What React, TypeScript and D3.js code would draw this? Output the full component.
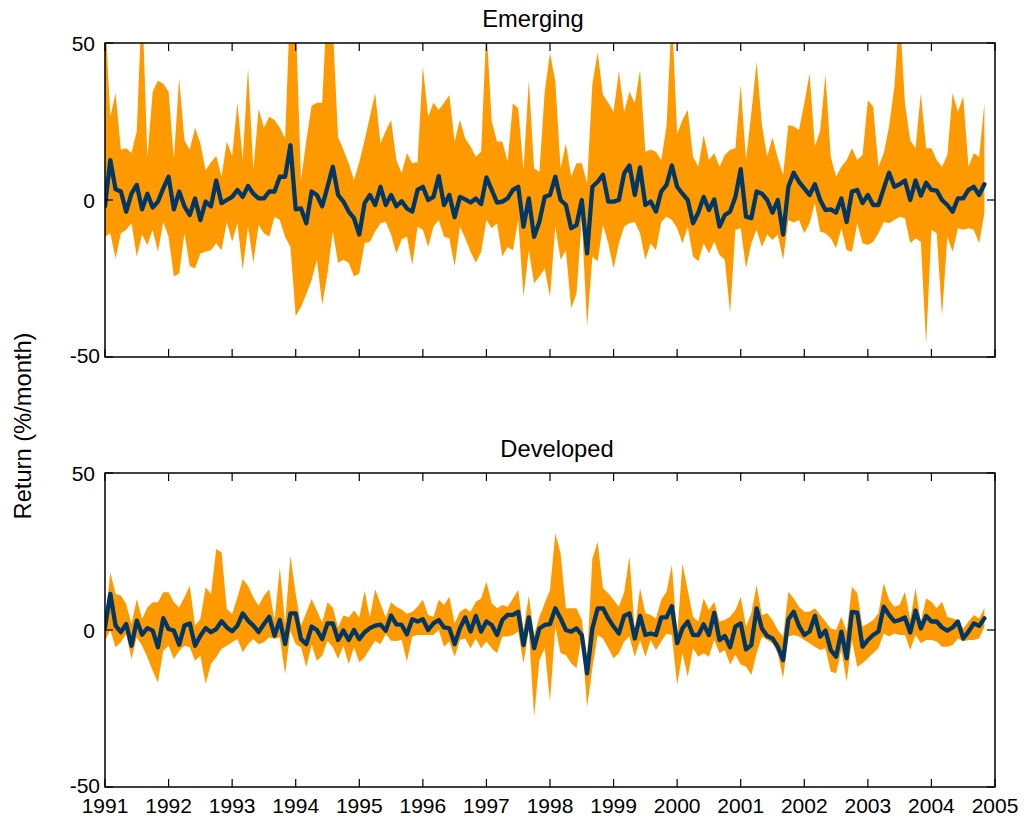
import React from "react";
import * as d3 from "d3";

// monthly returns (%/month), Jan 1991 .. Nov 2004
const emergingHigh = [
  60, 26.5, 34, 16, 16.5, 15, 22, 65, 13.4, 34.5, 38, 37,
  34.5, 13, 38.7, 19, 16, 23, 18, 9.5, 12, 14, 7.4, 18.6,
  14, 31, 12.7, 42, 9.5, 29, 23, 26.5, 25.5, 23, 19.6, 65,
  58, 6.4, 19, 30, 31, 31, 65, 55, 20, 16, 11.7, 6.4,
  12, 19, 26.5, 34, 18, 22, 25.5, 12.7, 8.5, 15, 11.7, 12,
  42.5, 26.5, 31, 28.7, 31, 33.4, 18.6, 25.5, 19.6, 17, 13.8, 15.4,
  55, 25, 18.6, 18.6, 12.2, 30.8, 29.2, 9.5, 38.2, 10, 9, 34.5,
  46.7, 37.7, 10, 18, 7.4, 11.7, 11.7, 5.3, 37, 47, 33.4, 31,
  28, 41, 28, 34.5, 30.8, 41.4, 15.4, 16, 15.4, 12.7, 23.4, 60,
  21, 25.5, 28.7, 13.8, 10.6, 20.7, 12.7, 14.9, 10.6, 14.3, 16, 16.5,
  36.6, 12.7, 27.6, 44, 23.9, 13.8, 20, 13.3, 8, 23.9, 23.4, 22.3,
  30.8, 40.3, 17, 22, 40, 13.8, 7.4, 10.6, 12.7, 16.5, 12.7, 14.3,
  31.8, 29.7, 10.6, 14.9, 23.4, 36, 60, 30.8, 19, 16.5, 34, 16.5,
  16.5, 12.7, 10.6, 14.3, 34, 28, 33, 10.6, 14.9, 13.8, 30.8,
];
const emergingMean = [
  -2, 12.7, 3.4, 2.7, -3.7, 2, 4.8, -3, 2, -2.4, -0.5, 3.7,
  7.4, -3, 2.7, -2, -4.8, 0.5, -6.4, -0.5, -2, 6.2, -1, 0,
  1, 3.2, 1, 4.5, 2, 0.5, 0.5, 2.7, 2.7, 7.4, 7.4, 17.5,
  -3, -2.7, -7.4, 2.7, 1.6, -2, 4.2, 10.6, 1.6, -0.5, -3.7, -5.8,
  -11, -1, 1.6, -1.6, 4.2, -1.6, 1.6, -2, -0.4, -2.7, -3.7, 3.2,
  4.2, 0, 1, 7.6, -1.6, 1.6, -5.5, 1, 0.2, -0.8, 0.5, -1.3,
  7.2, 3.2, -0.8, -0.5, 0.5, 3.2, 4.2, -8.5, 0.5, -11.7, -6.9, 1,
  1.6, 7.4, 0, -1.6, -9, -8, 0, -17, 4.2, 5.8, 8, -0.5,
  -0.5, 0, 8.5, 11, 1.6, 10.4, -1.6, -0.5, -3.7, 2.7, 4.8, 11,
  4.2, 2, 0, -7.4, -4, 1, -3.2, 0.2, -8.5, -4.8, -3.7, 1,
  9.8, -5.3, -5.8, 2.7, 2, 0, -4, 0, -11, 4.2, 8.7, 5.8,
  3.7, 1.6, 5, 0, -3.2, -3, -4, 0.5, -7, 2.7, 3.2, -1,
  1.6, -1.6, -1.6, 3.7, 8.7, 4.2, 5, 6.2, 0, 6.2, 1.4, 5.5,
  3.2, 3, 0, -1.6, -3.7, 0.5, 0.5, 3.2, 4.2, 1.6, 5,
];
const emergingLow = [
  -11.7, -10.6, -18.6, -10.6, -9.5, -7.4, -18, -11, -14.3, -9.5, -16.5, -7,
  -11.7, -24.4, -23.4, -10.6, -21, -21.8, -17, -16.5, -16, -13.8, -16, -7,
  -13.3, -7.4, -22.3, -8.5, -20, -8, -10.6, -11.7, -5.3, -6.4, -11.7, -15,
  -37, -34, -30, -25.5, -19, -33.4, -23.4, -10, -20, -19, -20, -24.4,
  -23.4, -13.8, -13.3, -10, -7.4, -7, -11, -17, -12.5, -11.7, -20.7, -8.5,
  -9.5, -15, -8.5, -6.4, -11.7, -12.2, -21.2, -8.5, -12.2, -16.5, -20, -16.5,
  -6.4, -9, -7.4, -18, -15, -16, -6.4, -30.8, -16, -26.5, -24.4, -21.8,
  -30.8, -8.5, -19, -16, -34.5, -29.7, -6.4, -40.3, -18, -19.6, -8, -13.8,
  -21.8, -13.8, -8.5, -7.4, -7, -10.6, -19, -13.8, -16, -7, -5.3, -6.4,
  -9, -13.8, -8.5, -18, -19.5, -13.8, -17, -13.3, -17.5, -19, -36, -9.5,
  -9, -21.8, -13.8, -9.5, -15, -11, -12.7, -11, -19, -6.4, -7.2, -6.4,
  -10.6, -7.4, -1, -10, -10.6, -12.2, -15.4, -9, -16, -16.5, -7.4, -13.8,
  -14.3, -13.3, -10.6, -7, -7.4, -6.4, -5.3, -5.8, -13.8, -12.2, -13.3, -46,
  -9.5, -10.6, -37, -11.7, -16.5, -9, -9.5, -9, -9.5, -13.8, -4.2,
];

const developedHigh = [
  2, 18.4, 11.5, 11, 8.3, 1.9, 9.9, 3.5, 7.2, 8.8, 8.8, 12,
  12, 8.8, 7.2, 10.4, 14.1, 1.4, 3.5, 13.6, 11.5, 25.8, 24.7, 6.7,
  5.1, 10.4, 16.2, 14.1, 10.4, 7.7, 10.9, 13, 3, 20, 2, 23.7,
  11.5, 1.4, 5.6, 9.9, 6.2, 2.4, 8.8, 7.2, 0.8, 4.6, 4, 6.2,
  4, 12.5, 4, 13, 8.3, 4, 8.8, 7.3, 6.5, 5.2, 5.8, 7.4,
  9.6, 4.8, 4.2, 9.6, 8, 10.6, 2.1, 5.8, 6.9, 5.8, 9, 10,
  15.4, 8.5, 6.9, 8, 7.4, 10, 12.7, 0, 11, -1.6, 4.2, 8.5,
  12.7, 30.8, 24.4, 6.9, 6.9, 6.9, 3.2, -9, 22.8, 28, 13.3, 11.7,
  9.6, 7.4, 12, 23.4, 0, 13.3, 5.3, 4.8, 3.7, 9.6, 12.2, 20.7,
  -1.6, 21.2, 12.7, 4.2, 2.6, 10, 6.4, 9, 2.7, 3.2, 4.2, 6.4,
  10.6, 1.1, 5.3, 14.3, 4.8, 5.3, 3.2, 0, -2.1, 12.2, 10, 7.4,
  5.8, 5.8, 6.9, 4.8, 2.7, 0.5, 0, 4.2, -0.5, 13.8, 11.7, 1.1,
  2.1, 3.2, 5.3, 14.9, 9.6, 7.4, 8, 12.2, 3.2, 13.3, 2.7, 10,
  9, 6.9, 9, 4.2, 3.7, 3.2, 0.5, 2.7, 4.8, 3.7, 6.9,
];
const developedMean = [
  0.8, 11.5, 1.4, -0.7, 1.9, -5, 3, -1.5, 0.6, -0.2, -5.5, 3.8,
  0.3, -0.2, -4.7, 1.4, 2.1, -5, -1.8, 0.6, -0.7, 0.3, 2.8, 0.8,
  -0.4, 1.4, 5.3, 3, 1.4, -0.7, 1.9, 4.2, -1.8, 3.2, -4.5, 5.3,
  5.3, -2.9, -4.5, 1.1, 0, -2.9, 2.1, 2.1, -3.2, -0.2, -3.2, 0,
  -2.9, -0.7, 0.6, 1.4, 1.7, -0.2, 4.6, 1.8, 1.6, -1.4, 3.4, 2.7,
  3.4, 0, 2.1, 3.2, 0.8, 0.5, -4.5, 0.5, 4, -0.5, 4.5, -0.5,
  2.7, 1.6, -1.6, 3.2, 4.8, 4.8, 5.8, -4.8, 4, -5.8, 0.5, 1.6,
  1.9, 6.9, 3.7, 0, -0.5, 0.5, -1.6, -13.8, 0.5, 6.9, 6.9, 3.7,
  1.1, -1.1, 4.5, 5.3, -2.7, 4.5, -1.6, -1.1, -1.6, 4, 4, 7.6,
  -4.2, 0.5, 2.7, -1.6, -1.6, 1.8, -1.6, 5.5, -3.2, -1.9, -5.5, 1.1,
  2.1, -6.2, -4.8, 6.9, 0.5, -1.9, -2.7, -5.3, -9.6, 3.4, 5.8, 1.3,
  -1.6, -0.5, 4.5, -2.1, -0.2, -6.4, -8.5, -0.5, -9, 5.8, 5.5, -5.3,
  -3.2, -1.6, -0.5, 7.4, 4.8, 2.7, 3.2, 4, -0.8, 6.2, 0.5, 4.5,
  2.7, 2.7, 0.8, -0.2, 0.8, 2.7, -2.7, -0.5, 2.1, 1.3, 3.7,
];
const developedLow = [
  -3.4, 0, -5.5, -3.9, -1.3, -9.2, -2.3, -5, -8.7, -13, -16.7, -6.6,
  -5, -9.2, -6.6, -5, -5.5, -9.8, -8.2, -17.2, -10.8, -8.7, -6, -5,
  -3.9, -2.9, -7.1, -4.5, -2.9, -4.5, -3.9, -2.3, -2.9, -2.3, -14, -0.2,
  -4.5, -5.5, -11.9, -4.5, -9.8, -8.2, -3.4, -5.5, -9.2, -5, -10.8, -5.5,
  -10.3, -8.7, -6, -3.4, -4.5, -1.3, -3.4, -3.5, -3.2, -10, -2.1, -1.6,
  -1.6, -1.6, -1.6, 0, -5.3, -3.7, -8.5, -3.2, -2.7, -5.8, -2.7, -5.8,
  -3.7, -5.8, -7.4, -2.1, -2.1, -1.6, -0.5, -10.6, 0, -27.6, -9.6, -5.8,
  -22.8, 1, -7.4, -8, -10.6, -12.2, -2.1, -24.6, -12.2, -1.6, -2.7, -5.8,
  -9, -7.4, -3.7, -2.1, -8.5, -3.2, -8.5, -3.2, -6.4, -3.7, -1.1, -1.6,
  -17.5, -7.4, -14.9, -5.8, -8.5, -7.4, -8.5, -3.2, -7.4, -6.4, -11, -8,
  -11, -11.7, -14.3, -7.4, -2.1, -3.2, -4.2, -7.4, -15.4, -2.1, -1.6, -2.1,
  -3.2, -4.2, -5.3, -6.4, -5.8, -13.3, -13.8, -6.4, -16.5, -3.2, -11.7, -10.6,
  -9, -7.4, -5.8, -1.1, -2.1, -1.1, -1.6, -1.6, -6.4, -1.6, -4.2, -3.2,
  -3.2, -3.7, -5.3, -5.3, -4.8, -2.7, -3.7, -3.2, -3.2, -2.7, 1,
];

const startYear = 1991;
const yearTicks = [1991, 1992, 1993, 1994, 1995, 1996, 1997, 1998, 1999, 2000, 2001, 2002, 2003, 2004, 2005];
const returnTicks = [-50, 0, 50];

const panels = [
  { title: "Emerging", titleX: 533, top: 43, high: emergingHigh, mean: emergingMean, low: emergingLow, xLabels: false },
  { title: "Developed", titleX: 557, top: 473, high: developedHigh, mean: developedMean, low: developedLow, xLabels: true },
];

const W = 1029;
const H = 820;
const left = 105;
const right = 995;
const panelH = 314;
const tickLen = 8;
const font = "'Liberation Sans', Arial, Helvetica, sans-serif";
const bandColor = "#ff9900";
const lineColor = "#003764";

export default function App() {
  const x = d3.scaleLinear().domain([1991, 2005]).range([left, right]);

  return (
    <div style={{ position: "absolute", left: 0, top: 0 }}>
      <svg width={W} height={H} style={{ display: "block", background: "#fff" }} fontFamily={font}>
        {panels.map((p, pi) => {
          const y = d3.scaleLinear().domain([-50, 50]).range([p.top + panelH, p.top]);
          const rows = p.mean.map((m, i) => ({ t: startYear + i / 12, hi: p.high[i], m, lo: p.low[i] }));
          const area = d3
            .area<(typeof rows)[0]>()
            .x((d) => x(d.t))
            .y0((d) => y(d.lo))
            .y1((d) => y(d.hi));
          const line = d3
            .line<(typeof rows)[0]>()
            .x((d) => x(d.t))
            .y((d) => y(d.m));
          const clipId = `clip-${pi}`;
          const bottom = p.top + panelH;
          return (
            <g key={p.title}>
              <defs>
                <clipPath id={clipId}>
                  <rect x={left} y={p.top} width={right - left} height={panelH} />
                </clipPath>
              </defs>
              <text x={p.titleX} y={p.top - 16} textAnchor="middle" fontSize={23.7} fill="#000">
                {p.title}
              </text>
              <g clipPath={`url(#${clipId})`}>
                <path d={area(rows) ?? ""} fill={bandColor} />
                <path
                  d={line(rows) ?? ""}
                  fill="none"
                  stroke={lineColor}
                  strokeWidth={4.3}
                  strokeLinejoin="round"
                  strokeLinecap="round"
                />
              </g>
              <rect x={left} y={p.top} width={right - left} height={panelH} fill="none" stroke="#000" strokeWidth={1.5} />
              {yearTicks.map((yr) => (
                <g key={yr}>
                  <line x1={x(yr)} x2={x(yr)} y1={bottom} y2={bottom - tickLen} stroke="#000" strokeWidth={1.2} />
                  <line x1={x(yr)} x2={x(yr)} y1={p.top} y2={p.top + tickLen} stroke="#000" strokeWidth={1.2} />
                  {p.xLabels && (
                    <text x={x(yr)} y={bottom + 26} textAnchor="middle" fontSize={21} fill="#000">
                      {yr}
                    </text>
                  )}
                </g>
              ))}
              {returnTicks.map((v) => (
                <g key={v}>
                  <line x1={left} x2={left + tickLen} y1={y(v)} y2={y(v)} stroke="#000" strokeWidth={1.2} />
                  <line x1={right} x2={right - tickLen} y1={y(v)} y2={y(v)} stroke="#000" strokeWidth={1.2} />
                  <text
                    x={v < 0 ? left - 5 : left - 10}
                    y={y(v) + (v < 0 ? 6 : 7.5)}
                    textAnchor="end"
                    fontSize={21}
                    fill="#000"
                  >
                    {v}
                  </text>
                </g>
              ))}
            </g>
          );
        })}
        <text
          transform={`translate(31,426) rotate(-90)`}
          textAnchor="middle"
          fontSize={23.7}
          fill="#000"
        >
          Return (%/month)
        </text>
      </svg>
    </div>
  );
}
